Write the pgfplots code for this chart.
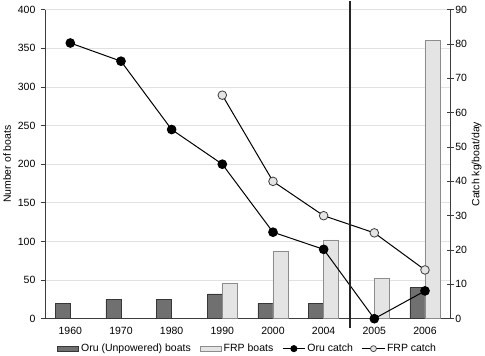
\documentclass[border=0pt]{standalone}
\usepackage{pgfplots}
\pgfplotsset{compat=1.18}
\usepackage{fontspec}
\setmainfont{Liberation Sans}
\definecolor{orufill}{RGB}{112,112,112}
\definecolor{orudraw}{RGB}{55,55,55}
\definecolor{frpfill}{RGB}{228,228,228}
\definecolor{frpdraw}{RGB}{140,140,140}
\definecolor{gridc}{RGB}{225,225,225}
\definecolor{axc}{RGB}{60,60,60}
\begin{document}
\begin{tikzpicture}
\pgfplotsset{
  every axis/.append style={
    scale only axis, width=404bp, height=308bp,
    xmin=-0.5, xmax=7.5,
    font=\fontsize{10.5}{12}\selectfont,
    /pgf/number format/assume math mode=true,
    axis line style={axc, line width=0.8bp},
    every tick/.style={axc, line width=0.8bp},
  }
}
\begin{axis}[
  axis x line*=bottom, axis y line*=left,
  ymin=0, ymax=400, ytick={0,50,...,400},
  ymajorgrids, grid style={gridc, line width=0.7bp},
  tick align=outside, major tick length=4bp,
  xtick={0,...,7},
  xticklabels={1960,1970,1980,1990,2000,2004,2005,2006},
  x tick style={draw=none},
  minor xtick={0.5,1.5,...,6.5},
  minor x tick style={axc, line width=0.8bp},
  minor tick length=4bp,
  xticklabel style={yshift=-1bp},
  yticklabel style={xshift=-2bp},
  ylabel={Number of boats},
  ylabel style={yshift=0bp},
  ybar, bar width=15bp,
]
\addplot[bar shift=-7.5bp, fill=orufill, draw=orudraw, line width=0.8bp] coordinates {
 (0,20) (1,25) (2,25) (3,32) (4,20) (5,20) (7,40)};
\addplot[bar shift=7.5bp, fill=frpfill, draw=frpdraw, line width=0.8bp] coordinates {
 (3,46) (4,87) (5,102) (6,52.5) (7,360)};
\end{axis}
\begin{axis}[
  axis y line*=right, axis x line=none,
  ymin=0, ymax=90, ytick={0,10,...,90},
  tick align=center, major tick length=7bp,
  yticklabel style={xshift=-2bp},
  ylabel={Catch kg/boat/day},
  ylabel style={yshift=2bp},
  clip=false,
  legend style={draw=none, at={(0.5,-0.075)}, anchor=north,
    font=\fontsize{10.5}{12}\selectfont, legend columns=4,
    /tikz/every even column/.append style={column sep=7bp},
    inner sep=0pt},
  legend cell align=left,
]
\addlegendimage{legend image code/.code={\draw[fill=orufill,draw=orudraw,line width=0.8bp] (0bp,-2.5bp) rectangle (21bp,2.5bp);}}
\addlegendentry{Oru (Unpowered) boats}
\addlegendimage{legend image code/.code={\draw[fill=frpfill,draw=frpdraw,line width=0.8bp] (0bp,-2.5bp) rectangle (21bp,2.5bp);}}
\addlegendentry{FRP boats}
\addplot[black, line width=1bp, mark=*, mark size=4.3bp, mark options={fill=black, draw=black},
  legend image code/.code={\draw[black,line width=1bp] (0bp,0bp) -- (22bp,0bp); \fill[black] (11bp,0bp) circle (3bp);}]
 coordinates {(0,80.3) (1,75) (2,55.1) (3,45) (4,25.2) (5,20.2) (6,0) (7,8.1)};
\addlegendentry{Oru catch}
\addplot[black, line width=1bp, mark=*, mark size=4.3bp, mark options={fill=frpfill, draw=axc, line width=0.8bp},
  legend image code/.code={\draw[black,line width=1bp] (0bp,0bp) -- (22bp,0bp); \draw[fill=frpfill,draw=axc,line width=0.7bp] (11bp,0bp) circle (3bp);}]
 coordinates {(3,65.1) (4,40) (5,30) (6,25) (7,14.2)};
\addlegendentry{FRP catch}
\addplot[forget plot, black!85, line width=2.2bp] coordinates {(5.52,92.5) (5.52,-2.8)};
\end{axis}
\end{tikzpicture}
\end{document}
